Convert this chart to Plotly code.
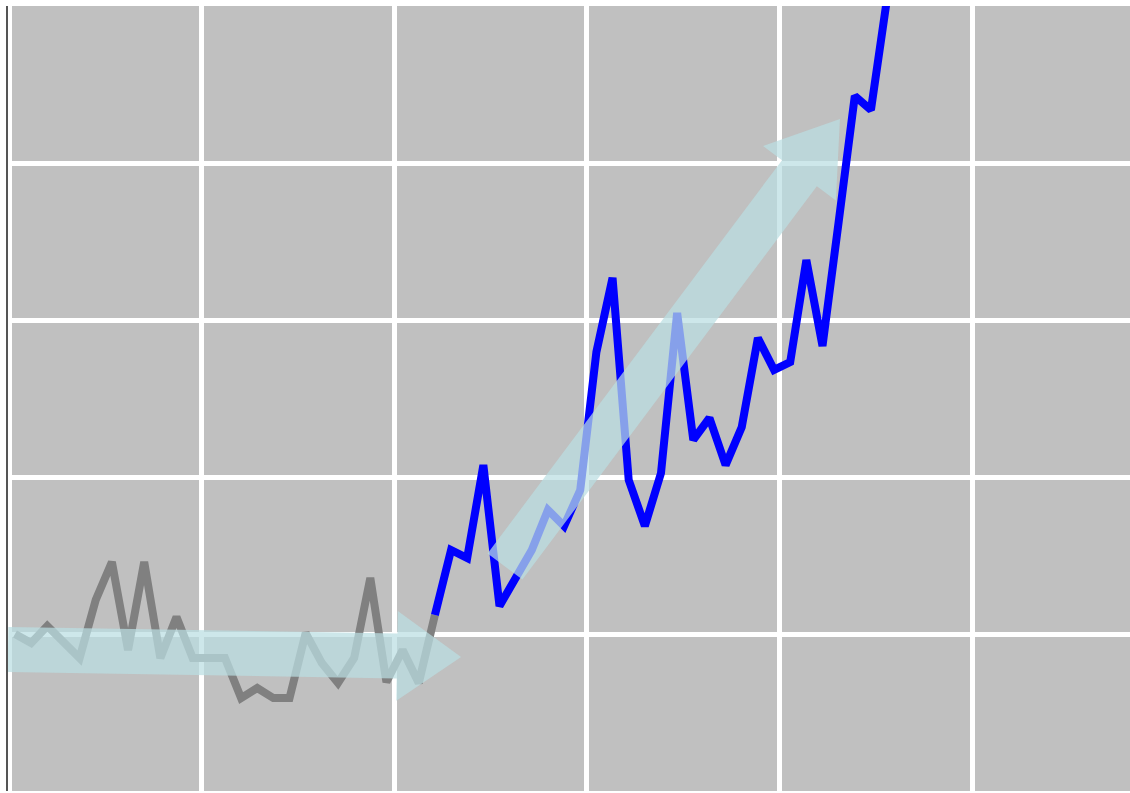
import math
import plotly.graph_objects as go

# ---------------- data ----------------
gray_x = list(range(0, 27))
gray_y = [1.00, 0.943, 1.051, 0.949, 0.847, 1.217, 1.459, 0.898, 1.459, 0.847,
          1.108, 0.847, 0.847, 0.847, 0.592, 0.656, 0.592, 0.592, 1.006, 0.815,
          0.688, 0.847, 1.357, 0.694, 0.898, 0.688, 1.121]

blue_x = list(range(26, 55))
blue_y = [1.121, 1.535, 1.484, 2.076, 1.178, 1.350, 1.535, 1.790, 1.688, 1.917,
          2.796, 3.268, 1.981, 1.688, 2.025, 3.045, 2.236, 2.376, 2.076, 2.318,
          2.885, 2.682, 2.732, 3.382, 2.834, 3.624, 4.427, 4.338, 5.05]

# arrows: (tail_x, tail_y, tip_x, tip_y) in data units
arrow_flat = (-0.433, 0.901, 27.62, 0.854)
arrow_rise = (30.34, 1.430, 51.08, 4.280)

# ---------------- layout geometry ----------------
W, H = 1130, 793
ML, MR, MT, MB = 8, 0, 6, 2
XMIN, XMAX = -0.4334, 69.04
YMIN, YMAX = 0.0, 5.0
PW, PH = W - ML - MR, H - MT - MB


def to_px(x, y):
    return (ML + (x - XMIN) / (XMAX - XMIN) * PW,
            MT + (YMAX - y) / (YMAX - YMIN) * PH)


def to_data(px, py):
    return (XMIN + (px - ML) / PW * (XMAX - XMIN),
            YMAX - (py - MT) / PH * (YMAX - YMIN))


def arrow_path(a, shaft_w, head_w, head_l):
    tx, ty = to_px(a[0], a[1])
    hx, hy = to_px(a[2], a[3])
    L = math.hypot(hx - tx, hy - ty)
    dx, dy = (hx - tx) / L, (hy - ty) / L
    nx, ny = -dy, dx
    bx, by = hx - dx * head_l, hy - dy * head_l
    pts = [
        (tx + nx * shaft_w / 2, ty + ny * shaft_w / 2),
        (bx + nx * shaft_w / 2, by + ny * shaft_w / 2),
        (bx + nx * head_w / 2, by + ny * head_w / 2),
        (hx, hy),
        (bx - nx * head_w / 2, by - ny * head_w / 2),
        (bx - nx * shaft_w / 2, by - ny * shaft_w / 2),
        (tx - nx * shaft_w / 2, ty - ny * shaft_w / 2),
    ]
    d = [to_data(p[0], p[1]) for p in pts]
    s = "M " + " L ".join(f"{x:.4f},{y:.4f}" for x, y in d) + " Z"
    return s


fig = go.Figure()
fig.add_trace(go.Scatter(x=gray_x, y=gray_y, mode="lines",
                         line=dict(color="#808080", width=8),
                         hoverinfo="skip", showlegend=False))
fig.add_trace(go.Scatter(x=blue_x, y=blue_y, mode="lines",
                         line=dict(color="#0000ff", width=8),
                         hoverinfo="skip", showlegend=False))

arrow_fill = "rgba(186,222,226,0.72)"
for a, sw, hw, hl in [(arrow_flat, 45, 90, 64), (arrow_rise, 43.5, 91, 67.6)]:
    fig.add_shape(type="path", path=arrow_path(a, sw, hw, hl),
                  xref="x", yref="y", fillcolor=arrow_fill,
                  line=dict(width=0), layer="above")

fig.update_layout(
    width=W, height=H,
    margin=dict(l=ML, r=MR, t=MT, b=MB, pad=0),
    paper_bgcolor="white",
    plot_bgcolor="#c0c0c0",
    showlegend=False,
    xaxis=dict(range=[XMIN, XMAX], tickmode="linear", tick0=11.56, dtick=11.925,
               showgrid=True, gridcolor="white", gridwidth=5,
               showticklabels=False, ticks="", zeroline=False, showline=False,
               fixedrange=True),
    yaxis=dict(range=[YMIN, YMAX], tickmode="linear", tick0=0, dtick=1,
               showgrid=True, gridcolor="white", gridwidth=5,
               showticklabels=False, ticks="", zeroline=False,
               showline=True, linecolor="#555555", linewidth=2,
               fixedrange=True),
)

fig.write_html("out.html", config={"displayModeBar": False})
